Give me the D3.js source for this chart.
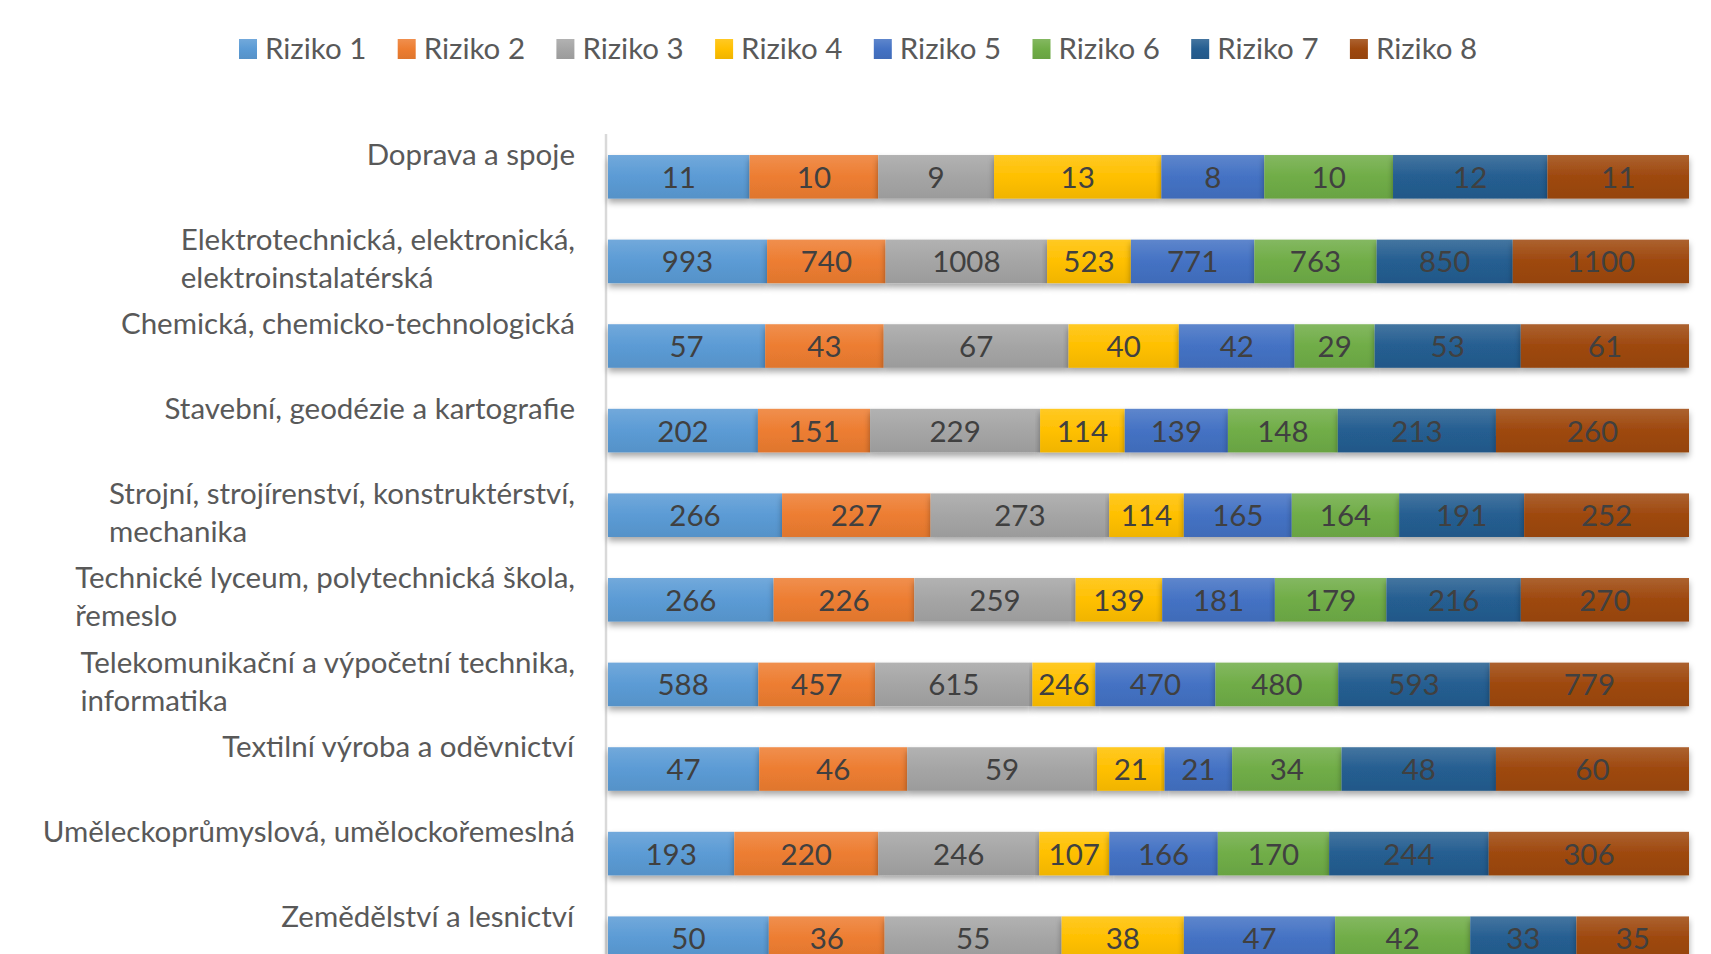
<!DOCTYPE html>
<html>
<head>
<meta charset="utf-8">
<script src="https://cdn.jsdelivr.net/npm/d3@7"></script>
<style>
  body { margin: 0; background: #fff; }
  svg { display: block; font-family: Lato, "Open Sans", sans-serif; }
</style>
</head>
<body>
<svg id="chart" width="1711" height="954"></svg>
<script>
let categories = ['Doprava a spoje', 'Elektrotechnická, elektronická, elektroinstalatérská',
    'Chemická, chemicko-technologická', 'Stavební, geodézie a kartografie',
    'Strojní, strojírenství, konstruktérství, mechanika', 'Technické lyceum, polytechnická škola, řemeslo',
    'Telekomunikační a výpočetní technika, informatika', 'Textilní výroba a oděvnictví',
    'Uměleckoprůmyslová, umělockořemeslná', 'Zemědělství a lesnictví']
let series = ['Riziko 1', 'Riziko 2', 'Riziko 3', 'Riziko 4', 'Riziko 5', 'Riziko 6', 'Riziko 7', 'Riziko 8']

// one array per risk, values in category order
let riziko1 = [11, 993, 57, 202, 266, 266, 588, 47, 193, 50]
let riziko2 = [10, 740, 43, 151, 227, 226, 457, 46, 220, 36]
let riziko3 = [9, 1008, 67, 229, 273, 259, 615, 59, 246, 55]
let riziko4 = [13, 523, 40, 114, 114, 139, 246, 21, 107, 38]
let riziko5 = [8, 771, 42, 139, 165, 181, 470, 21, 166, 47]
let riziko6 = [10, 763, 29, 148, 164, 179, 480, 34, 170, 42]
let riziko7 = [12, 850, 53, 213, 191, 216, 593, 48, 244, 33]
let riziko8 = [11, 1100, 61, 260, 252, 270, 779, 60, 306, 35]

let colors = ['#5B9BD5', '#ED7D31', '#A5A5A5', '#FFC000', '#4472C4', '#70AD47', '#255E91', '#9E480E']

let allSeries = [riziko1, riziko2, riziko3, riziko4, riziko5, riziko6, riziko7, riziko8]
let rows = categories.map(function (c, i) {
    let r = {cat: c}
    series.forEach(function (s, j) { r[s] = allSeries[j][i] })
    return r
})

let svg = d3.select('#chart')
let fontSize = 29.5

// gradients + shadow, Excel-like
let defs = svg.append('defs')
colors.forEach(function (c, j) {
    let g = defs.append('linearGradient').attr('id', 'grad' + j)
        .attr('x1', 0).attr('y1', 0).attr('x2', 0).attr('y2', 1)
    g.append('stop').attr('offset', '0%').attr('stop-color', d3.interpolateRgb(c, '#fff')(0.14))
    g.append('stop').attr('offset', '50%').attr('stop-color', c)
    g.append('stop').attr('offset', '100%').attr('stop-color', d3.interpolateRgb(c, '#000')(0.06))
})
let f = defs.append('filter').attr('id', 'shadow')
    .attr('x', '-5%').attr('y', '-20%').attr('width', '110%').attr('height', '160%')
f.append('feDropShadow').attr('dx', 0).attr('dy', 4).attr('stdDeviation', 3)
    .attr('flood-color', '#000').attr('flood-opacity', 0.35)

let x = d3.scaleLinear().domain([0, 1]).range([608, 1689])
let y = d3.scaleBand().domain(categories).range([134.5, 980.5])
    .paddingInner(0.485).paddingOuter(0.2425)

let stacked = d3.stack().keys(series).offset(d3.stackOffsetExpand)(rows)

// category axis line
svg.append('line')
    .attr('x1', 606).attr('x2', 606)
    .attr('y1', 134).attr('y2', 954)
    .attr('stroke', '#d9d9d9').attr('stroke-width', 2.5)

let layer = svg.selectAll('g.layer')
    .data(stacked)
    .enter().append('g')
    .attr('class', 'layer')
    .attr('fill', function (d, j) { return 'url(#grad' + j + ')' })

layer.selectAll('rect')
    .data(function (d) { return d })
    .enter().append('rect')
    .attr('x', function (d) { return x(d[0]) })
    .attr('y', function (d) { return y(d.data.cat) })
    .attr('width', function (d) { return x(d[1]) - x(d[0]) })
    .attr('height', y.bandwidth())
    .attr('filter', 'url(#shadow)')

// value labels
stacked.forEach(function (s) {
    svg.append('g').selectAll('text')
        .data(s)
        .enter().append('text')
        .attr('x', function (d) { return (x(d[0]) + x(d[1])) / 2 })
        .attr('y', function (d) { return y(d.data.cat) + y.bandwidth() / 2 })
        .attr('dy', '0.37em')
        .attr('text-anchor', 'middle')
        .attr('fill', '#404040')
        .style('font-size', fontSize + 'px')
        .text(function (d) { return d.data[s.key] })
})

// category labels: wrapped, block right aligned, lines left aligned
let labelRight = 575
let maxLabel = 545
categories.forEach(function (c) {
    let g = svg.append('g')
    let t = g.append('text').attr('fill', '#595959').style('font-size', fontSize + 'px')
    let words = c.split(' ')
    let lines = []
    let line = []
    let probe = t.append('tspan')
    words.forEach(function (w) {
        line.push(w)
        probe.text(line.join(' '))
        if (probe.node().getComputedTextLength() > maxLabel && line.length > 1) {
            line.pop()
            lines.push(line.join(' '))
            line = [w]
        }
    })
    lines.push(line.join(' '))
    probe.remove()
    let cy = y(c) + y.bandwidth() / 2 - 22
    lines.forEach(function (l, i) {
        t.append('tspan').attr('x', 0).attr('y', cy + i * 38).attr('dy', '0.35em').text(l)
    })
    let w = t.node().getBBox().width
    t.attr('transform', 'translate(' + (labelRight - w) + ',0)')
})

// legend
let legend = svg.append('g').selectAll('g')
    .data(series)
    .enter().append('g')
    .attr('transform', function (d, i) { return 'translate(' + (239 + i * 158.7) + ',49)' })
legend.append('rect')
    .attr('x', 0).attr('y', -10).attr('width', 18).attr('height', 20)
    .attr('fill', function (d, i) { return 'url(#grad' + i + ')' })
legend.append('text')
    .attr('x', 26).attr('dy', '0.35em')
    .attr('fill', '#595959')
    .style('font-size', fontSize + 'px')
    .text(function (d) { return d })
</script>
</body>
</html>
